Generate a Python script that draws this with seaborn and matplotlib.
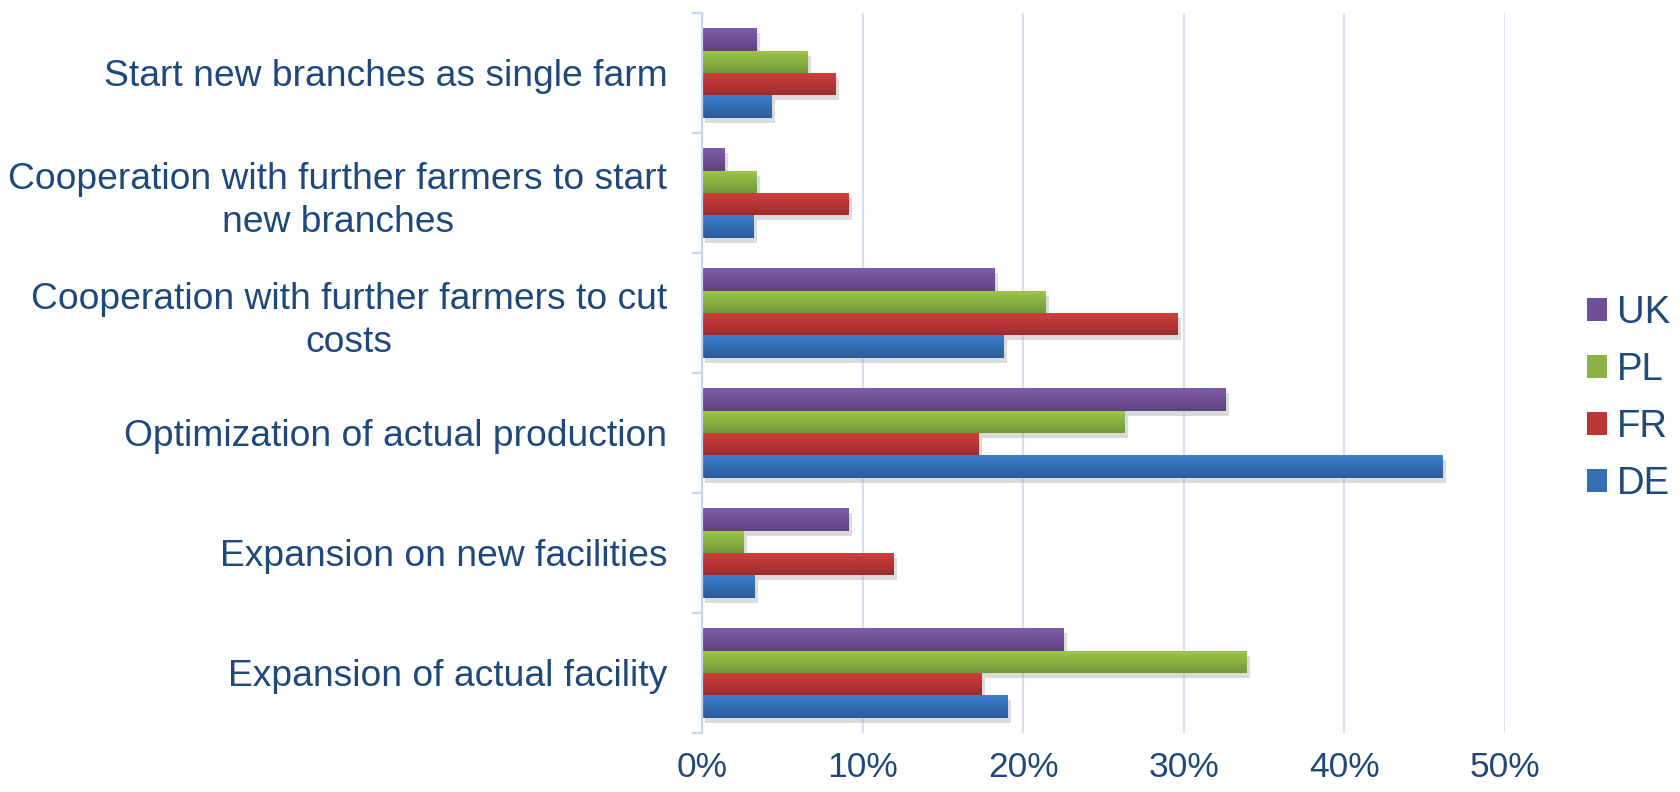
import numpy as np
import pandas as pd
import matplotlib
matplotlib.use("Agg")
import matplotlib.pyplot as plt
import matplotlib.patheffects as pe
from matplotlib.patches import Patch
from matplotlib.ticker import PercentFormatter, FixedLocator
import seaborn as sns

# Development measures planned by farms, share of respondents per country
measures = [
    "Start new branches as single farm",
    "Cooperation with further farmers to start\nnew branches",
    "Cooperation with further farmers to cut\ncosts",
    "Optimization of actual production",
    "Expansion on new facilities",
    "Expansion of actual facility",
]
countries = ["UK", "PL", "FR", "DE"]
uk = [3.4, 1.4, 18.2, 32.6, 9.1, 22.5]
pl = [6.6, 3.4, 21.4, 26.3, 2.6, 33.9]
fr = [8.3, 9.1, 29.6, 17.2, 11.9, 17.4]
de = [4.3, 3.2, 18.8, 46.1, 3.3, 19.0]
x_ticks = [0, 0.1, 0.2, 0.3, 0.4, 0.5]

# gradient end colours (top, bottom) and flat colour per country
grad = {
    "UK": ("#7F5AAA", "#5E4380"),
    "PL": ("#9FCA4B", "#74973A"),
    "FR": ("#D2403E", "#9E2B2A"),
    "DE": ("#3D81CE", "#2B5C99"),
}
flat = {"UK": "#6F4F95", "PL": "#8AB143", "FR": "#BB3635", "DE": "#346FB4"}

text_color = "#1F497D"
grid_color = "#D5E1F1"
axis_color = "#C7D7EC"
fs_cat = 26.8
fs_tick = 25.5
fs_leg = 27.5

rows = []
for c, vals in zip(countries, [uk, pl, fr, de]):
    for m, v in zip(measures, vals):
        rows.append({"measure": m, "country": c, "share": v / 100})
df = pd.DataFrame(rows)

sns.set_theme(style="white")
plt.rcParams["font.family"] = ["Liberation Sans", "DejaVu Sans"]

fig = plt.figure(figsize=(16.8, 7.92), dpi=100)
ax = fig.add_axes([702 / 1680, 1 - 733 / 792, (1505 - 702) / 1680, (733 - 13) / 792])

sns.barplot(
    data=df, x="share", y="measure", hue="country",
    order=measures, hue_order=countries, orient="h",
    palette=flat, width=0.745, legend=False, ax=ax,
    edgecolor="none", linewidth=0,
)

ax.set_xlim(0, 0.5)
ax.set_ylim(5.5, -0.5)

# vertical gradient fill and soft drop shadow on each bar
shadow = [pe.SimplePatchShadow(offset=(2.5, -3.5), shadow_rgbFace="#9a9a9a", alpha=0.35), pe.Normal()]
for c, cont in zip(countries, ax.containers):
    top = np.array(matplotlib.colors.to_rgb(grad[c][0]))
    bot = np.array(matplotlib.colors.to_rgb(grad[c][1]))
    t = np.linspace(0, 1, 64)[:, None, None]
    img = top * (1 - t) + bot * t
    for bar in cont:
        bar.set_path_effects(shadow)
        x0, y0 = bar.get_x(), bar.get_y()
        w, h = bar.get_width(), bar.get_height()
        im = ax.imshow(img, extent=(x0, x0 + w, y0 + h, y0), origin="upper",
                       aspect="auto", interpolation="bilinear",
                       zorder=bar.get_zorder() + 0.01)
        im.set_clip_path(bar)

ax.set_xlim(0, 0.5)
ax.set_ylim(5.5, -0.5)

ax.set_axisbelow(True)
ax.xaxis.set_major_locator(FixedLocator(x_ticks))
ax.xaxis.set_major_formatter(PercentFormatter(1.0, decimals=0))
ax.xaxis.grid(True, color=grid_color, linewidth=1.6)
ax.yaxis.grid(False)

for s in ["top", "right", "bottom"]:
    ax.spines[s].set_visible(False)
ax.spines["left"].set_color(axis_color)
ax.spines["left"].set_linewidth(1.6)

ax.tick_params(axis="x", length=0, pad=13, labelsize=fs_tick, labelcolor=text_color)
ax.tick_params(axis="y", which="major", length=0, pad=25, labelsize=fs_cat, labelcolor=text_color)
ax.yaxis.set_minor_locator(FixedLocator(np.arange(-0.5, 6.0, 1.0)))
ax.tick_params(axis="y", which="minor", length=7.5, width=1.6, color=axis_color, direction="out", left=True)
for lab in ax.get_yticklabels():
    lab.set_multialignment("center")
    lab.set_linespacing(1.3)

ax.set_xlabel("")
ax.set_ylabel("")

handles = [Patch(facecolor=flat[c], edgecolor="none") for c in countries]
ax.legend(
    handles, countries, loc="center left",
    bbox_to_anchor=(1587 / 1680, 1 - 398.5 / 792), bbox_transform=fig.transFigure,
    frameon=False, fontsize=fs_leg, labelcolor=text_color,
    handlelength=0.52, handleheight=0.52, handletextpad=0.27,
    labelspacing=0.55, borderpad=0, borderaxespad=0,
)

fig.savefig("out.png", dpi=100)
